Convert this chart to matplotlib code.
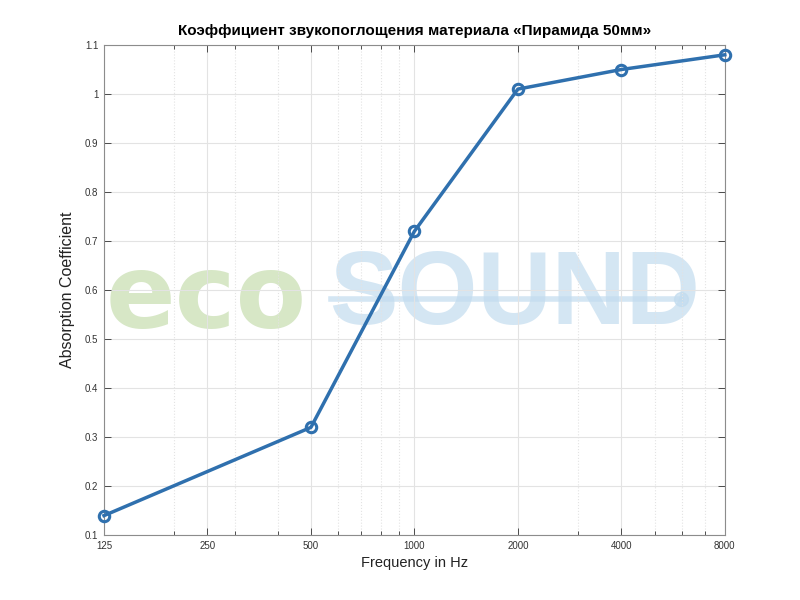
import matplotlib
matplotlib.use('Agg')
import matplotlib.pyplot as plt
from matplotlib.ticker import FixedLocator, FixedFormatter, NullFormatter

plt.rcParams['font.family'] = ['Liberation Sans', 'DejaVu Sans']

freqs = [125, 500, 1000, 2000, 4000, 8000]
alpha = [0.14, 0.32, 0.72, 1.01, 1.05, 1.08]
xtick_vals = [125, 250, 500, 1000, 2000, 4000, 8000]
xtick_labels = ['125', '250', '500', '1000', '2000', '4000', '8000']
xminor_vals = [200, 300, 400, 600, 700, 800, 900, 3000, 5000, 6000, 7000]
ytick_vals = [0.1, 0.2, 0.3, 0.4, 0.5, 0.6, 0.7, 0.8, 0.9, 1.0, 1.1]
ytick_labels = ['0.1', '0.2', '0.3', '0.4', '0.5', '0.6', '0.7', '0.8', '0.9', '1', '1.1']

fig = plt.figure(figsize=(8, 6), dpi=100)
ax = fig.add_axes([0.13, 0.108, 0.776, 0.817])

ax.set_xscale('log')
ax.set_xlim(125, 8000)
ax.set_ylim(0.1, 1.1)

# watermark (logo)
ax.text(0.003, 0.48, 'eco', transform=ax.transAxes, fontsize=74, fontweight='bold',
        family='DejaVu Sans', color='#c6ddae', alpha=0.7, ha='left', va='center',
        zorder=0.5)
ax.text(0.362, 0.485, 'SOUND', transform=ax.transAxes, fontsize=74, fontweight='bold',
        color='#c2dcef', alpha=0.7, ha='left', va='center', zorder=0.5)
ax.plot([0.365, 0.93], [0.482, 0.482], transform=ax.transAxes, color='#c2dcef',
        lw=4, alpha=0.7, zorder=0.5)
ax.plot([0.93], [0.482], transform=ax.transAxes, color='#c2dcef', alpha=0.7,
        marker='o', markersize=10, zorder=0.5)

ax.xaxis.set_major_locator(FixedLocator(xtick_vals))
ax.xaxis.set_major_formatter(FixedFormatter(xtick_labels))
ax.xaxis.set_minor_locator(FixedLocator(xminor_vals))
ax.xaxis.set_minor_formatter(NullFormatter())
ax.set_yticks(ytick_vals)
ax.set_yticklabels(ytick_labels)

ax.grid(True, which='major', color='#e3e3e3', lw=0.8)
ax.grid(True, which='minor', axis='x', color='#e3e3e3', lw=0.8, ls=':')

ax.tick_params(which='both', direction='in', top=True, right=True,
               labelsize=7, colors='#333333', pad=4)
ax.tick_params(which='major', length=5, width=0.6)
ax.tick_params(which='minor', length=3, width=0.6)
for s in ax.spines.values():
    s.set_color('#8c8c8c')
    s.set_linewidth(0.8)

ax.plot(freqs, alpha, color='#2f70ae', lw=2.5, marker='o', markersize=7.5,
        markerfacecolor='none', markeredgewidth=2.2, zorder=3, clip_on=False)

ax.set_xlabel('Frequency in Hz', fontsize=10.5, color='#222222', labelpad=4)
ax.set_ylabel('Absorption Coefficient', fontsize=11.5, color='#222222')
ax.yaxis.set_label_coords(-0.047, 0.5)
ax.set_title('Коэффициент звукопоглощения материала «Пирамида 50мм»',
             fontsize=11, fontweight='bold', pad=7)

fig.savefig('out.png', dpi=100)
